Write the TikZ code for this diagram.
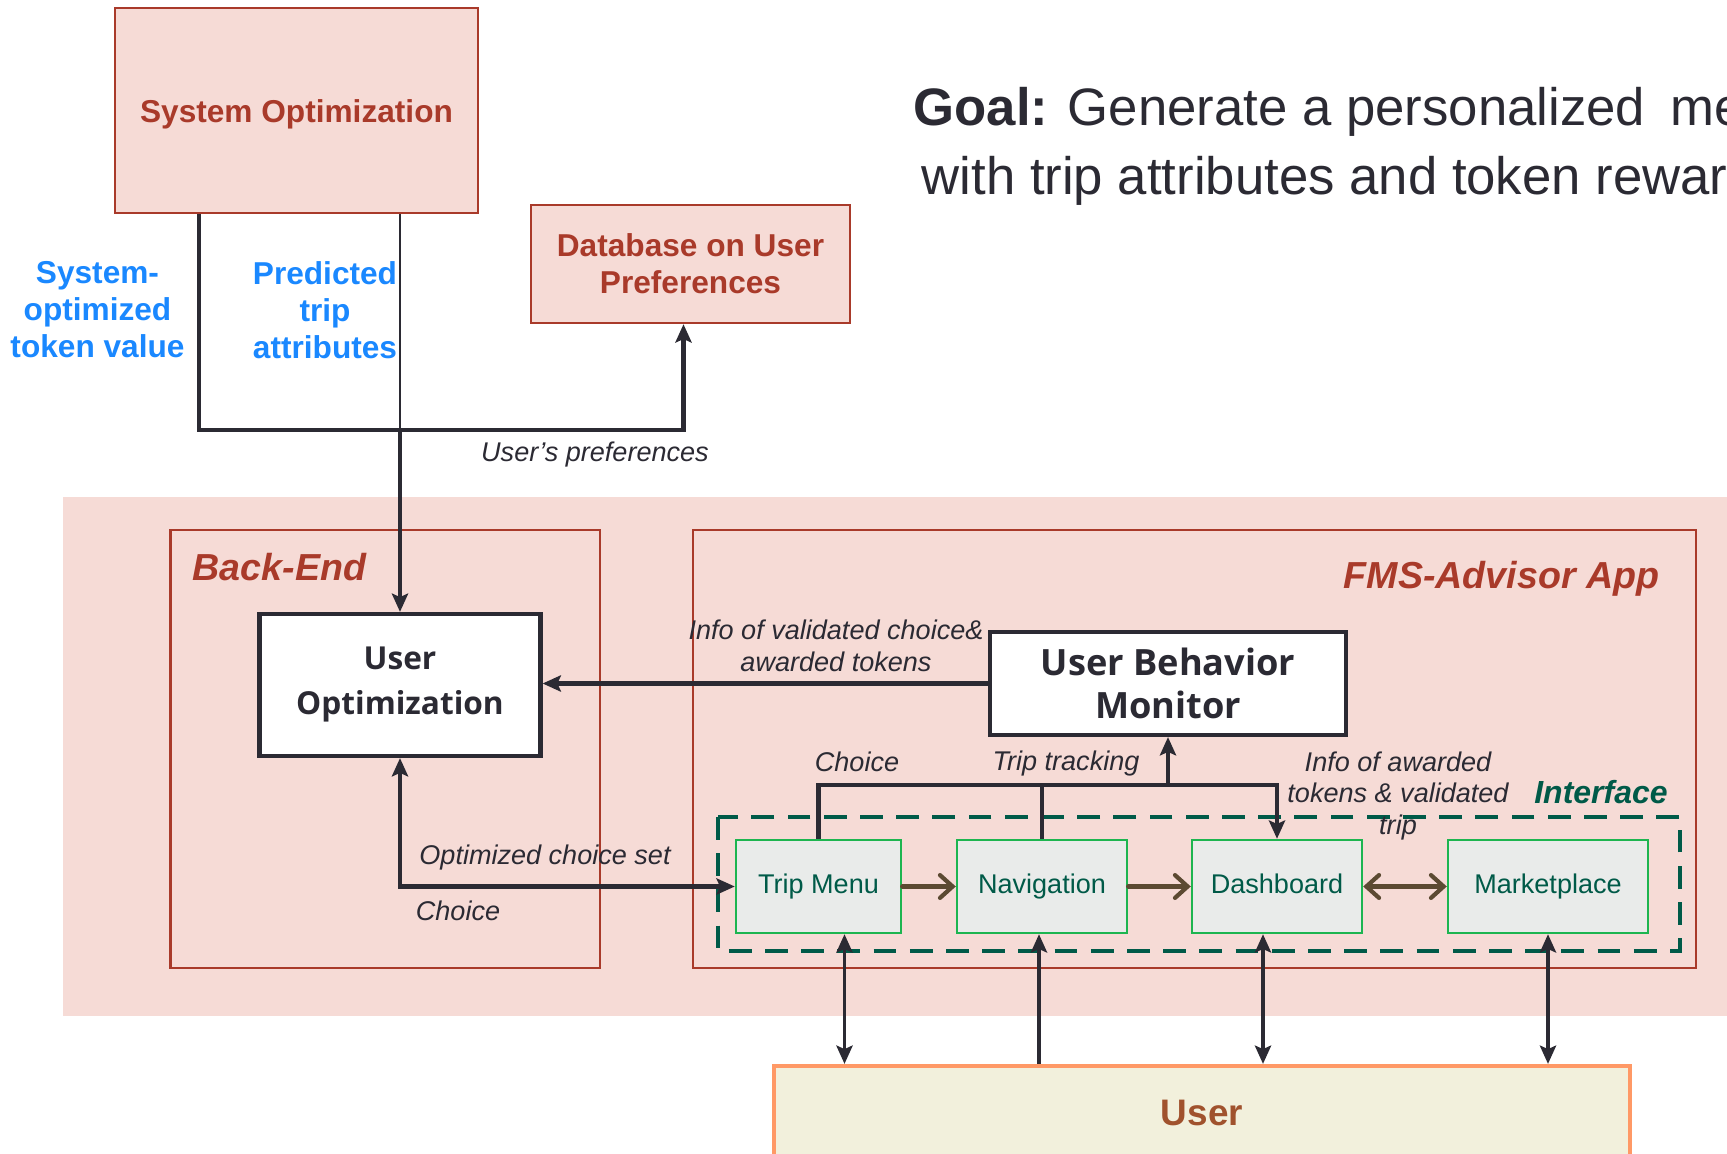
\documentclass[tikz,border=0pt]{standalone}
\usepackage{fontspec}
\setmainfont{Liberation Sans}
\newfontfamily\opensans{Open Sans}
\usetikzlibrary{arrows.meta}

\definecolor{brickred}{HTML}{A93A2A}
\definecolor{pinkfill}{HTML}{F6DBD6}
\definecolor{skyblue}{HTML}{1A88FF}
\definecolor{inkdark}{HTML}{2B2A33}
\definecolor{mintline}{HTML}{1DB550}
\definecolor{greyfill}{HTML}{E9EBEA}
\definecolor{pine}{HTML}{005A48}
\definecolor{mud}{HTML}{5C4A32}
\definecolor{peach}{HTML}{FF9966}
\definecolor{cream}{HTML}{F2F0DC}
\definecolor{rust}{HTML}{A0522D}

\begin{document}
\begin{tikzpicture}[x=0.1mm, y=-0.1mm,
  >={Stealth[length=5.2pt, width=4.6pt, inset=1pt]},
  barb/.tip={Straight Barb[length=3.6pt, width=6.5pt, line cap=round]},
  redbox/.style={draw=brickred, line width=0.7pt, fill=pinkfill, text=brickred,
    font=\bfseries\fontsize{9}{10.5}\selectfont, align=center, inner sep=0pt},
  whitebox/.style={draw=inkdark, line width=1.2pt, fill=white, text=inkdark,
    font=\opensans\bfseries\fontsize{10}{12.5}\selectfont, align=center, inner sep=0pt},
  appbox/.style={draw=mintline, line width=0.7pt, fill=greyfill, text=pine,
    font=\fontsize{7.7}{9}\selectfont, minimum height=9.3mm, inner sep=0pt,
    text height=5.6pt, text depth=1.6pt},
  bluelbl/.style={text=skyblue, font=\bfseries\fontsize{9}{10.5}\selectfont, align=center, inner sep=0pt},
  note/.style={text=inkdark, font=\itshape\fontsize{7.7}{9.1}\selectfont, align=center, inner sep=0pt},
  framelbl/.style={text=brickred, font=\bfseries\itshape\fontsize{10.7}{12}\selectfont, inner sep=0pt},
  goaltext/.style={anchor=base west, inner sep=0pt, text=inkdark, font=\fontsize{15}{18}\selectfont},
  wire/.style={draw=inkdark, line width=1.2pt},
  userlink/.style={draw=inkdark, line width=1pt},
  flow/.style={draw=mud, line width=1.2pt, line cap=round},
]
  \useasboundingbox (0,0) rectangle (1727,1154);
  \clip (0,0) rectangle (1727,1154);

  % Goal statement
  \node[goaltext] (goalA) at (913,126) {\textbf{Goal:} Generate a personalized\hspace{3pt} menu};
  \node[goaltext] (goalB) at (921,195) {with trip attributes and token rewards};

  % Top blocks
  \node[redbox, minimum width=36.3mm, minimum height=20.5mm, text height=6.6pt, text depth=0pt]
    (sysopt) at (296.5,110.5) {System Optimization};
  \node[redbox, minimum width=31.9mm, minimum height=11.8mm] (db) at (690.5,264) {Database on User\\Preferences};
  \node[bluelbl] (tokval) at (97.5,310) {System-\\optimized\\token value};
  \node[bluelbl] (tripattr) at (325,310) {Predicted\\trip\\attributes};

  % Shaded area and frames
  \fill[pinkfill] (63,497) rectangle (1740,1016);
  \draw[brickred, line width=0.7pt] (170.5,530) rectangle (600,968);
  \draw[brickred, line width=0.7pt] (693,530) rectangle (1696,968);
  \node[framelbl, anchor=west] (belbl) at (192,567) {Back-End};
  \node[framelbl, anchor=east] (fmslbl) at (1660,579) {FMS-Advisor App};
  \draw[pine, line width=1.1pt, dash pattern=on 6.5pt off 3.8pt] (718,817) rectangle (1680,951);
  \node[text=pine, font=\bfseries\itshape\fontsize{9.1}{11}\selectfont, inner sep=0pt] (iflbl) at (1601,792) {Interface};

  % Main blocks
  \node[whitebox, minimum width=28.1mm, minimum height=14.2mm, font=\opensans\bfseries\fontsize{9}{12.8}\selectfont]
    (uo) at (400,685) {User\\Optimization};
  \node[whitebox, minimum width=35.6mm, minimum height=10.3mm, font=\opensans\bfseries\fontsize{10.3}{12.2}\selectfont]
    (ubm) at (1168,683.5) {User Behavior\\Monitor};

  % App screens
  \node[appbox, minimum width=16.5mm] (tm) at (818.5,886.5) {Trip Menu};
  \node[appbox, minimum width=17mm] (nav) at (1042,886.5) {Navigation};
  \node[appbox, minimum width=17mm] (dash) at (1277,886.5) {Dashboard};
  \node[appbox, minimum width=20mm] (mkt) at (1548,886.5) {Marketplace};

  \node[draw=peach, line width=1.2pt, fill=cream, text=rust, font=\bfseries\fontsize{10.5}{12}\selectfont,
    minimum width=85.6mm, minimum height=9.4mm, inner sep=0pt] (usr) at (1202,1113) {User};

  % Top connectors
  \coordinate (jl) at (199,430);
  \coordinate (jn) at (400,430);
  \draw[wire, ->] (sysopt.south -| jl) |- (jn) -| ([xshift=-0.7mm]db.south);
  \draw[inkdark, line width=0.6pt] (sysopt.south -| jn) -- (jn);
  \draw[wire, ->] (jn) -- (uo.north);
  \node[note] (lblprefs) at (595,455) {User’s preferences};

  % Feedback to back-end
  \draw[wire, ->] (ubm.west) -- (ubm.west -| uo.east);
  \node[note] (lblinfo) at (836,646) {Info of validated choice\&\\awarded tokens};

  % Tracking bus
  \coordinate (bus) at (1168,785);
  \draw[wire, ->] (tm.north) |- (bus -| dash.north) -- (dash.north);
  \draw[wire] (nav.north) -- (nav.north |- bus);
  \draw[wire, ->] (bus -| ubm.south) -- (ubm.south);
  \node[note] (lblchoice) at (857,762) {Choice};
  \node[note] (lbltrack) at (1066,764) {Trip tracking};
  \node[note] (lblaward) at (1398,796) {Info of awarded\\tokens \& validated\\trip};

  % Choice set
  \draw[wire, <->] (uo.south) |- (tm.west);
  \node[note] (lblset) at (545,858) {Optimized choice set};
  \node[note] (lblback) at (458,911) {Choice};

  % Screen flow
  \draw[flow, -barb] (tm) -- (nav);
  \draw[flow, -barb] (nav) -- (dash);
  \draw[flow, barb-barb] (dash) -- (mkt);

  % User links
  \draw[userlink, <->] ([xshift=2.6mm]tm.south) -- ([xshift=2.6mm]tm.south |- usr.north);
  \draw[userlink, ->] ([xshift=-0.3mm]nav.south |- usr.north) -- ([xshift=-0.3mm]nav.south);
  \draw[userlink, <->] ([xshift=-1.4mm]dash.south) -- ([xshift=-1.4mm]dash.south |- usr.north);
  \draw[userlink, <->] (mkt.south) -- (mkt.south |- usr.north);
\end{tikzpicture}
\end{document}
